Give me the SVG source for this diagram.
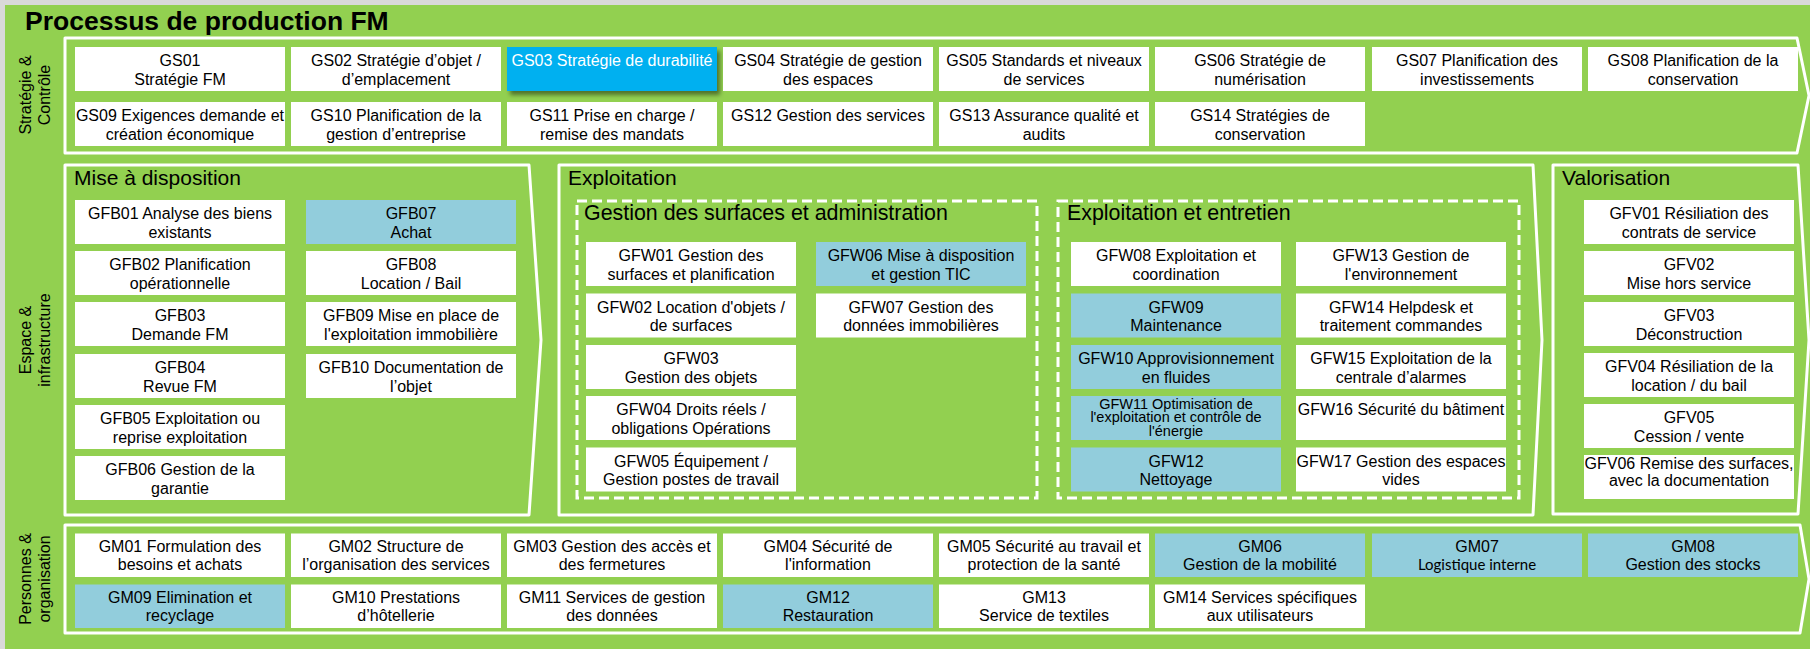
<svg xmlns="http://www.w3.org/2000/svg" width="1810" height="649" viewBox="0 0 1810 649">
<defs>
<style>
.bg{fill:#d9d9d9}
.green{fill:#92d050}
.box{fill:#ffffff}
.blue{fill:#92cddc}
.cyan{fill:#00b0f0}
.t{font-family:"Liberation Sans",Arial,sans-serif;font-size:16px;text-anchor:middle;fill:#000}
.tight{font-size:14.5px}
.tw{fill:#ffffff}
.lato{font-family:Lato,"Liberation Sans",sans-serif;font-size:15px}
.h{font-family:"Liberation Sans",Arial,sans-serif;font-size:21px;fill:#000}
.h2{font-size:21.4px}
.title{font-family:"Liberation Sans",Arial,sans-serif;font-size:26.5px;font-weight:bold;fill:#000}
.side{font-family:"Liberation Sans",Arial,sans-serif;font-size:16px;text-anchor:middle;fill:#000}
.panel{fill:none;stroke:#ffffff;stroke-width:3;stroke-linejoin:round}
.dash{fill:none;stroke:#ffffff;stroke-width:3;stroke-dasharray:10 5}
</style>
<filter id="shadow" x="-10%" y="-20%" width="130%" height="160%">
<feDropShadow dx="3" dy="4" stdDeviation="2.2" flood-color="#000" flood-opacity="0.45"/>
</filter>
</defs>

<rect class="bg" x="0" y="0" width="1810" height="649"/>
<rect class="green" x="5" y="5" width="1805" height="644"/>

<text class="title" x="25" y="29.5">Processus de production FM</text>

<!-- band / panel outlines -->
<g id="frames">
<polygon class="panel" points="65,38 1797,38 1809,95.5 1797,153 65,153"/>
<polygon class="panel" points="65,165 529,165 541,340 529,515 65,515"/>
<polygon class="panel" points="559,165 1533,165 1542,340 1533,515 559,515"/>
<polygon class="panel" points="1553,165 1798,165 1809,340 1798,514 1553,514"/>
<polygon class="panel" points="65,525 1800,525 1809,579 1800,633 65,633"/>
<rect class="dash" x="577" y="201" width="460" height="297"/>
<rect class="dash" x="1058" y="201" width="461" height="297"/>
</g>

<!-- side labels -->
<g id="label-strategie">
<text class="side" transform="translate(0 95) rotate(-90)"><tspan x="0" y="31">Stratégie &amp;</tspan><tspan x="0" y="49.5">Contrôle</tspan></text>
</g>
<g id="label-espace">
<text class="side" transform="translate(0 340) rotate(-90)"><tspan x="0" y="31">Espace &amp;</tspan><tspan x="0" y="49.5">infrastructure</tspan></text>
</g>
<g id="label-personnes">
<text class="side" transform="translate(0 579) rotate(-90)"><tspan x="0" y="31">Personnes &amp;</tspan><tspan x="0" y="49.5">organisation</tspan></text>
</g>

<!-- section titles -->
<text class="h" x="74" y="185">Mise à disposition</text>
<text class="h" x="568" y="185">Exploitation</text>
<text class="h" x="1562" y="185">Valorisation</text>
<text class="h h2" x="584" y="220">Gestion des surfaces et administration</text>
<text class="h h2" x="1067" y="220">Exploitation et entretien</text>

<!-- Stratégie & Contrôle -->
<g id="GS01"><rect class="box" x="75" y="47" width="210" height="44"/><text class="t"><tspan x="180" y="66">GS01</tspan><tspan x="180" y="84.5">Stratégie FM</tspan></text></g>
<g id="GS02"><rect class="box" x="291" y="47" width="210" height="44"/><text class="t"><tspan x="396" y="66">GS02 Stratégie d’objet /</tspan><tspan x="396" y="84.5">d’emplacement</tspan></text></g>
<g id="GS03"><rect class="cyan" x="507" y="47" width="210" height="44" filter="url(#shadow)"/><text class="t tw"><tspan x="612" y="66">GS03 Stratégie de durabilité</tspan></text></g>
<g id="GS04"><rect class="box" x="723" y="47" width="210" height="44"/><text class="t"><tspan x="828" y="66">GS04 Stratégie de gestion</tspan><tspan x="828" y="84.5">des espaces</tspan></text></g>
<g id="GS05"><rect class="box" x="939" y="47" width="210" height="44"/><text class="t"><tspan x="1044" y="66">GS05 Standards et niveaux</tspan><tspan x="1044" y="84.5">de services</tspan></text></g>
<g id="GS06"><rect class="box" x="1155" y="47" width="210" height="44"/><text class="t"><tspan x="1260" y="66">GS06 Stratégie de</tspan><tspan x="1260" y="84.5">numérisation</tspan></text></g>
<g id="GS07"><rect class="box" x="1372" y="47" width="210" height="44"/><text class="t"><tspan x="1477" y="66">GS07 Planification des</tspan><tspan x="1477" y="84.5">investissements</tspan></text></g>
<g id="GS08"><rect class="box" x="1588" y="47" width="210" height="44"/><text class="t"><tspan x="1693" y="66">GS08 Planification de la</tspan><tspan x="1693" y="84.5">conservation</tspan></text></g>
<g id="GS09"><rect class="box" x="75" y="102" width="210" height="44"/><text class="t"><tspan x="180" y="121">GS09 Exigences demande et</tspan><tspan x="180" y="139.5">création économique</tspan></text></g>
<g id="GS10"><rect class="box" x="291" y="102" width="210" height="44"/><text class="t"><tspan x="396" y="121">GS10 Planification de la</tspan><tspan x="396" y="139.5">gestion d’entreprise</tspan></text></g>
<g id="GS11"><rect class="box" x="507" y="102" width="210" height="44"/><text class="t"><tspan x="612" y="121">GS11 Prise en charge /</tspan><tspan x="612" y="139.5">remise des mandats</tspan></text></g>
<g id="GS12"><rect class="box" x="723" y="102" width="210" height="44"/><text class="t"><tspan x="828" y="121">GS12 Gestion des services</tspan></text></g>
<g id="GS13"><rect class="box" x="939" y="102" width="210" height="44"/><text class="t"><tspan x="1044" y="121">GS13 Assurance qualité et</tspan><tspan x="1044" y="139.5">audits</tspan></text></g>
<g id="GS14"><rect class="box" x="1155" y="102" width="210" height="44"/><text class="t"><tspan x="1260" y="121">GS14 Stratégies de</tspan><tspan x="1260" y="139.5">conservation</tspan></text></g>

<!-- Mise à disposition -->
<g id="GFB01"><rect class="box" x="75" y="200" width="210" height="44"/><text class="t"><tspan x="180" y="219">GFB01 Analyse des biens</tspan><tspan x="180" y="237.5">existants</tspan></text></g>
<g id="GFB02"><rect class="box" x="75" y="251" width="210" height="44"/><text class="t"><tspan x="180" y="270">GFB02 Planification</tspan><tspan x="180" y="288.5">opérationnelle</tspan></text></g>
<g id="GFB03"><rect class="box" x="75" y="302" width="210" height="44"/><text class="t"><tspan x="180" y="321">GFB03</tspan><tspan x="180" y="339.5">Demande FM</tspan></text></g>
<g id="GFB04"><rect class="box" x="75" y="354" width="210" height="44"/><text class="t"><tspan x="180" y="373">GFB04</tspan><tspan x="180" y="391.5">Revue FM</tspan></text></g>
<g id="GFB05"><rect class="box" x="75" y="405" width="210" height="44"/><text class="t"><tspan x="180" y="424">GFB05 Exploitation ou</tspan><tspan x="180" y="442.5">reprise exploitation</tspan></text></g>
<g id="GFB06"><rect class="box" x="75" y="456" width="210" height="44"/><text class="t"><tspan x="180" y="475">GFB06 Gestion de la</tspan><tspan x="180" y="493.5">garantie</tspan></text></g>
<g id="GFB07"><rect class="blue" x="306" y="200" width="210" height="44"/><text class="t"><tspan x="411" y="219">GFB07</tspan><tspan x="411" y="237.5">Achat</tspan></text></g>
<g id="GFB08"><rect class="box" x="306" y="251" width="210" height="44"/><text class="t"><tspan x="411" y="270">GFB08</tspan><tspan x="411" y="288.5">Location / Bail</tspan></text></g>
<g id="GFB09"><rect class="box" x="306" y="302" width="210" height="44"/><text class="t"><tspan x="411" y="321">GFB09 Mise en place de</tspan><tspan x="411" y="339.5">l'exploitation immobilière</tspan></text></g>
<g id="GFB10"><rect class="box" x="306" y="354" width="210" height="44"/><text class="t"><tspan x="411" y="373">GFB10 Documentation de</tspan><tspan x="411" y="391.5">l’objet</tspan></text></g>

<!-- Gestion des surfaces et administration -->
<g id="GFW01"><rect class="box" x="586" y="242" width="210" height="44"/><text class="t"><tspan x="691" y="261">GFW01 Gestion des</tspan><tspan x="691" y="279.5">surfaces et planification</tspan></text></g>
<g id="GFW02"><rect class="box" x="586" y="293.5" width="210" height="44"/><text class="t"><tspan x="691" y="312.5">GFW02 Location d'objets /</tspan><tspan x="691" y="331">de surfaces</tspan></text></g>
<g id="GFW03"><rect class="box" x="586" y="345" width="210" height="44"/><text class="t"><tspan x="691" y="364">GFW03</tspan><tspan x="691" y="382.5">Gestion des objets</tspan></text></g>
<g id="GFW04"><rect class="box" x="586" y="396" width="210" height="44"/><text class="t"><tspan x="691" y="415">GFW04 Droits réels /</tspan><tspan x="691" y="433.5">obligations Opérations</tspan></text></g>
<g id="GFW05"><rect class="box" x="586" y="447.5" width="210" height="44"/><text class="t"><tspan x="691" y="466.5">GFW05 Équipement /</tspan><tspan x="691" y="485">Gestion postes de travail</tspan></text></g>
<g id="GFW06"><rect class="blue" x="816" y="242" width="210" height="44"/><text class="t"><tspan x="921" y="261">GFW06 Mise à disposition</tspan><tspan x="921" y="279.5">et gestion TIC</tspan></text></g>
<g id="GFW07"><rect class="box" x="816" y="293.5" width="210" height="44"/><text class="t"><tspan x="921" y="312.5">GFW07 Gestion des</tspan><tspan x="921" y="331">données immobilières</tspan></text></g>

<!-- Exploitation et entretien -->
<g id="GFW08"><rect class="box" x="1071" y="242" width="210" height="44"/><text class="t"><tspan x="1176" y="261">GFW08 Exploitation et</tspan><tspan x="1176" y="279.5">coordination</tspan></text></g>
<g id="GFW09"><rect class="blue" x="1071" y="293.5" width="210" height="44"/><text class="t"><tspan x="1176" y="312.5">GFW09</tspan><tspan x="1176" y="331">Maintenance</tspan></text></g>
<g id="GFW10"><rect class="blue" x="1071" y="345" width="210" height="44"/><text class="t"><tspan x="1176" y="364">GFW10 Approvisionnement</tspan><tspan x="1176" y="382.5">en fluides</tspan></text></g>
<g id="GFW11"><rect class="blue" x="1071" y="396" width="210" height="44"/><text class="t tight"><tspan x="1176" y="408.5">GFW11 Optimisation de</tspan><tspan x="1176" y="422.3">l'exploitation et contrôle de</tspan><tspan x="1176" y="436.1">l'énergie</tspan></text></g>
<g id="GFW12"><rect class="blue" x="1071" y="447.5" width="210" height="44"/><text class="t"><tspan x="1176" y="466.5">GFW12</tspan><tspan x="1176" y="485">Nettoyage</tspan></text></g>
<g id="GFW13"><rect class="box" x="1296" y="242" width="210" height="44"/><text class="t"><tspan x="1401" y="261">GFW13 Gestion de</tspan><tspan x="1401" y="279.5">l'environnement</tspan></text></g>
<g id="GFW14"><rect class="box" x="1296" y="293.5" width="210" height="44"/><text class="t"><tspan x="1401" y="312.5">GFW14 Helpdesk et</tspan><tspan x="1401" y="331">traitement commandes</tspan></text></g>
<g id="GFW15"><rect class="box" x="1296" y="345" width="210" height="44"/><text class="t"><tspan x="1401" y="364">GFW15 Exploitation de la</tspan><tspan x="1401" y="382.5">centrale d’alarmes</tspan></text></g>
<g id="GFW16"><rect class="box" x="1296" y="396" width="210" height="44"/><text class="t"><tspan x="1401" y="415">GFW16 Sécurité du bâtiment</tspan></text></g>
<g id="GFW17"><rect class="box" x="1296" y="447.5" width="210" height="44"/><text class="t"><tspan x="1401" y="466.5">GFW17 Gestion des espaces</tspan><tspan x="1401" y="485">vides</tspan></text></g>

<!-- Valorisation -->
<g id="GFV01"><rect class="box" x="1584" y="200" width="210" height="44"/><text class="t"><tspan x="1689" y="219">GFV01 Résiliation des</tspan><tspan x="1689" y="237.5">contrats de service</tspan></text></g>
<g id="GFV02"><rect class="box" x="1584" y="251" width="210" height="44"/><text class="t"><tspan x="1689" y="270">GFV02</tspan><tspan x="1689" y="288.5">Mise hors service</tspan></text></g>
<g id="GFV03"><rect class="box" x="1584" y="302" width="210" height="44"/><text class="t"><tspan x="1689" y="321">GFV03</tspan><tspan x="1689" y="339.5">Déconstruction</tspan></text></g>
<g id="GFV04"><rect class="box" x="1584" y="353" width="210" height="44"/><text class="t"><tspan x="1689" y="372">GFV04 Résiliation de la</tspan><tspan x="1689" y="390.5">location / du bail</tspan></text></g>
<g id="GFV05"><rect class="box" x="1584" y="404" width="210" height="44"/><text class="t"><tspan x="1689" y="423">GFV05</tspan><tspan x="1689" y="441.5">Cession / vente</tspan></text></g>
<g id="GFV06"><rect class="box" x="1584" y="455" width="210" height="44"/><text class="t"><tspan x="1689" y="469">GFV06 Remise des surfaces,</tspan><tspan x="1689" y="485.5">avec la documentation</tspan></text></g>

<!-- Personnes & organisation -->
<g id="GM01"><rect class="box" x="75" y="533.5" width="210" height="43.5"/><text class="t"><tspan x="180" y="552">GM01 Formulation des</tspan><tspan x="180" y="570.3">besoins et achats</tspan></text></g>
<g id="GM02"><rect class="box" x="291" y="533.5" width="210" height="43.5"/><text class="t"><tspan x="396" y="552">GM02 Structure de</tspan><tspan x="396" y="570.3">l’organisation des services</tspan></text></g>
<g id="GM03"><rect class="box" x="507" y="533.5" width="210" height="43.5"/><text class="t"><tspan x="612" y="552">GM03 Gestion des accès et</tspan><tspan x="612" y="570.3">des fermetures</tspan></text></g>
<g id="GM04"><rect class="box" x="723" y="533.5" width="210" height="43.5"/><text class="t"><tspan x="828" y="552">GM04 Sécurité de</tspan><tspan x="828" y="570.3">l'information</tspan></text></g>
<g id="GM05"><rect class="box" x="939" y="533.5" width="210" height="43.5"/><text class="t"><tspan x="1044" y="552">GM05 Sécurité au travail et</tspan><tspan x="1044" y="570.3">protection de la santé</tspan></text></g>
<g id="GM06"><rect class="blue" x="1155" y="533.5" width="210" height="43.5"/><text class="t"><tspan x="1260" y="552">GM06</tspan><tspan x="1260" y="570.3">Gestion de la mobilité</tspan></text></g>
<g id="GM07"><rect class="blue" x="1372" y="533.5" width="210" height="43.5"/><text class="t"><tspan x="1477" y="552">GM07</tspan><tspan class="lato" x="1477" y="570.3">Logistique interne</tspan></text></g>
<g id="GM08"><rect class="blue" x="1588" y="533.5" width="210" height="43.5"/><text class="t"><tspan x="1693" y="552">GM08</tspan><tspan x="1693" y="570.3">Gestion des stocks</tspan></text></g>
<g id="GM09"><rect class="blue" x="75" y="584.5" width="210" height="43.5"/><text class="t"><tspan x="180" y="603">GM09 Elimination et</tspan><tspan x="180" y="621.3">recyclage</tspan></text></g>
<g id="GM10"><rect class="box" x="291" y="584.5" width="210" height="43.5"/><text class="t"><tspan x="396" y="603">GM10 Prestations</tspan><tspan x="396" y="621.3">d’hôtellerie</tspan></text></g>
<g id="GM11"><rect class="box" x="507" y="584.5" width="210" height="43.5"/><text class="t"><tspan x="612" y="603">GM11 Services de gestion</tspan><tspan x="612" y="621.3">des données</tspan></text></g>
<g id="GM12"><rect class="blue" x="723" y="584.5" width="210" height="43.5"/><text class="t"><tspan x="828" y="603">GM12</tspan><tspan x="828" y="621.3">Restauration</tspan></text></g>
<g id="GM13"><rect class="box" x="939" y="584.5" width="210" height="43.5"/><text class="t"><tspan x="1044" y="603">GM13</tspan><tspan x="1044" y="621.3">Service de textiles</tspan></text></g>
<g id="GM14"><rect class="box" x="1155" y="584.5" width="210" height="43.5"/><text class="t"><tspan x="1260" y="603">GM14 Services spécifiques</tspan><tspan x="1260" y="621.3">aux utilisateurs</tspan></text></g>
</svg>
